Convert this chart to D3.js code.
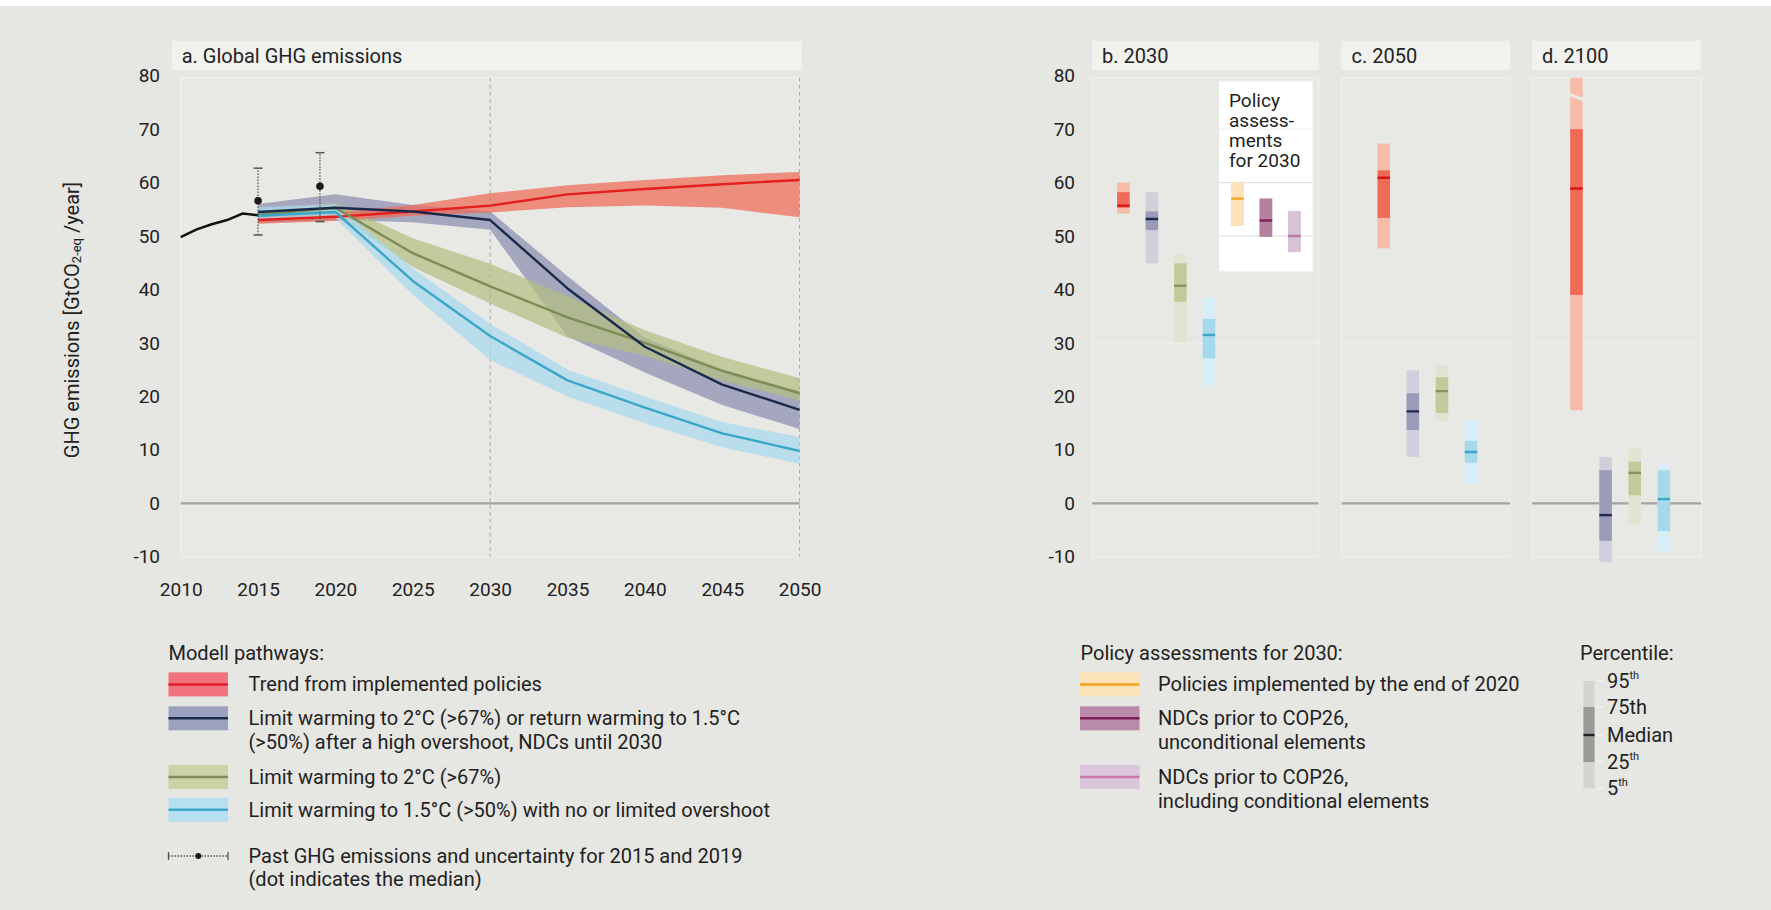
<!DOCTYPE html>
<html>
<head>
<meta charset="utf-8">
<script src="https://cdn.jsdelivr.net/npm/d3@7"></script>
<style>
html,body{margin:0;padding:0;background:#fff;}
svg{display:block;}
text{font-family:Roboto,"Noto Sans",sans-serif;fill:#222;}
</style>
</head>
<body>
<svg id="chart" width="1771" height="910"></svg>
<script>
// ---------------- DATA ----------------
const yTicks = [-10, 0, 10, 20, 30, 40, 50, 60, 70, 80];
const xTicks = [2010, 2015, 2020, 2025, 2030, 2035, 2040, 2045, 2050];

const histYears  = [2010, 2011, 2012, 2013, 2014, 2015];
const histValues = [49.8, 51.2, 52.2, 53.0, 54.2, 53.9];

const pastYears  = [2015, 2019];
const pastMedian = [56.6, 59.3];
const pastLow    = [50.2, 52.7];
const pastHigh   = [62.7, 65.6];

const pathYears = [2015, 2020, 2025, 2030, 2035, 2040, 2045, 2050];
const trendMed  = [53.0, 53.6, 54.6, 55.7, 57.8, 58.8, 59.7, 60.5];
const trendLow  = [52.3, 52.8, 53.8, 54.4, 55.4, 55.7, 55.3, 53.5];
const trendHigh = [53.8, 54.4, 55.8, 58.0, 59.5, 60.5, 61.4, 62.0];

const ndcMed  = [54.5, 55.3, 54.6, 53.0, 40.2, 29.3, 22.2, 17.5];
const ndcLow  = [52.5, 53.0, 52.6, 51.2, 31.2, 24.5, 18.4, 13.9];
const ndcHigh = [56.0, 57.8, 55.8, 54.6, 42.5, 31.0, 25.0, 21.0];

const c2Med  = [54.0, 55.3, 46.8, 40.6, 34.8, 30.0, 24.8, 20.6];
const c2Low  = [53.0, 54.2, 44.2, 37.4, 31.0, 27.6, 23.0, 19.2];
const c2High = [54.8, 56.2, 49.6, 44.8, 38.8, 32.4, 27.4, 23.4];

const c15Med  = [53.8, 54.5, 41.6, 31.3, 23.0, 17.9, 13.1, 9.8];
const c15Low  = [52.8, 53.4, 39.0, 26.8, 20.0, 15.0, 10.5, 7.4];
const c15High = [55.4, 56.0, 44.0, 33.6, 25.0, 20.0, 15.2, 12.4];

// Percentile bars: [p5, p25, median, p75, p95]
const cats2030 = ["Trend", "NDC2030", "C2", "C15", "Policies", "NDCuncond", "NDCcond"];
const p2030 = [
  [54.2, 55.3, 55.7, 58.2, 60.0],
  [44.9, 51.1, 53.2, 54.6, 58.2],
  [30.1, 37.7, 40.7, 44.9, 46.5],
  [21.8, 27.1, 31.5, 34.5, 38.5],
  [51.9, 51.9, 57.0, 60.0, 60.0],
  [49.9, 49.9, 52.9, 57.0, 57.0],
  [47.0, 47.0, 50.0, 54.7, 54.7]
];
const cats2050 = ["Trend", "NDC2030", "C2", "C15"];
const p2050 = [
  [47.7, 53.4, 60.9, 62.3, 67.3],
  [8.7, 13.7, 17.2, 20.6, 24.9],
  [15.4, 16.9, 21.0, 23.6, 25.8],
  [3.5, 7.6, 9.6, 11.7, 15.3]
];
const cats2100 = ["Trend", "NDC2030", "C2", "C15"];
const p2100 = [
  [17.4, 39.0, 58.9, 70.0, 95.0],
  [-11.0, -7.0, -2.2, 6.2, 8.7],
  [-4.0, 1.5, 5.7, 7.8, 10.4],
  [-9.0, -5.2, 0.8, 6.2, 7.7]
];
const breakCat = "Trend", breakValue = 76;

const modelLegend = [
  ["Trend from implemented policies"],
  ["Limit warming to 2°C (>67%) or return warming to 1.5°C", "(>50%) after a high overshoot, NDCs until 2030"],
  ["Limit warming to 2°C (>67%)"],
  ["Limit warming to 1.5°C (>50%) with no or limited overshoot"]
];
const pastLegend = ["Past GHG emissions and uncertainty for 2015 and 2019", "(dot indicates the median)"];
const policyLegend = [
  ["Policies implemented by the end of 2020"],
  ["NDCs prior to COP26,", "unconditional elements"],
  ["NDCs prior to COP26,", "including conditional elements"]
];
const percentileLabels = ["95", "75th", "Median", "25", "5"];
const percentileSup = ["th", "", "", "th", "th"];

// ---------------- STYLE ----------------
const col = {
  Trend:     {band:"#ee6a55", line:"#e2201f", light:"#f7bba9", dark:"#ee6b57", med:"#d6151b", sw:"#f0737d", swl:"#e31a2c"},
  NDC2030:   {band:"#8b8dae", line:"#1b2a4b", light:"#d0d0dd", dark:"#9a9bb8", med:"#1e2b4e", sw:"#9da1c0", swl:"#1d2a4b"},
  C2:        {band:"#b3be82", line:"#7d8b55", light:"#e2e4d3", dark:"#c4c99b", med:"#87925d", sw:"#cbd2a5", swl:"#808d5a"},
  C15:       {band:"#a8d8ee", line:"#3aa6c8", light:"#d8edf5", dark:"#a7d9ec", med:"#3ea6c8", sw:"#b6e0f1", swl:"#40a7c6"},
  Policies:  {light:"#fde3bb", dark:"#fde3bb", med:"#f2a524", sw:"#fde3b8", swl:"#f3a51e"},
  NDCuncond: {light:"#b4829f", dark:"#b4829f", med:"#7f2259", sw:"#b98aa9", swl:"#7b1e56"},
  NDCcond:   {light:"#d8c2d6", dark:"#d8c2d6", med:"#b57aa4", sw:"#dcc6db", swl:"#c777ac"}
};
const BG = "#e6e6e2", PANEL = "#e8e8e5", TITLEBG = "#f1f1ee";
const FS = "20px", TICKFS = "19px";

const svg = d3.select("#chart");
svg.append("rect").attr("width",1771).attr("height",910).attr("fill",BG);
svg.append("rect").attr("width",1771).attr("height",6).attr("fill","#fff");

const y = d3.scaleLinear().domain([-10, 80]).range([556.8, 75.7]);
const x = d3.scaleLinear().domain([2010, 2050]).range([180.7, 799.6]);
const panelTop = y(79.6), panelBot = y(-10);
const fmt = d => String(d); // plain hyphen for negatives

function titleBar(x0, x1, label){
  svg.append("rect").attr("x",x0).attr("y",40.7).attr("width",x1-x0).attr("height",29.3).attr("fill",TITLEBG);
  svg.append("text").attr("x",x0+10).attr("y",55.5).attr("dominant-baseline","central")
    .style("font-size",FS).text(label);
}
function panelRect(x0, x1){
  svg.append("rect").attr("x",x0).attr("y",panelTop).attr("width",x1-x0).attr("height",panelBot-panelTop)
    .attr("fill",PANEL).attr("stroke","#eeeeeb").attr("stroke-width",1.5);
}
function yAxis(xpos){
  const g = svg.append("g").attr("transform",`translate(${xpos},0)`)
    .call(d3.axisLeft(y).tickValues(yTicks).tickSize(0).tickPadding(0).tickFormat(fmt));
  g.select(".domain").remove();
  g.selectAll("text").style("font-size",TICKFS).style("fill","#222").attr("font-family",null);
}

// ---------------- PANEL A ----------------
titleBar(171.7, 801.9, "a. Global GHG emissions");
panelRect(180.7, 799.6);
yAxis(160);
const xa = svg.append("g").attr("transform",`translate(0,${y(-10)+33})`)
  .call(d3.axisBottom(x).tickValues(xTicks).tickSize(0).tickPadding(0).tickFormat(fmt));
xa.select(".domain").remove();
xa.selectAll("text").style("font-size",TICKFS).style("fill","#222").attr("dy","0.32em").attr("y",0);

// dashed verticals
[2030, 2050].forEach(v=>{
  svg.append("line").attr("x1",x(v)).attr("x2",x(v)).attr("y1",panelTop).attr("y2",panelBot)
    .attr("stroke","#a9a9a6").attr("stroke-width",1).attr("stroke-dasharray","4,3");
});
// zero line
svg.append("line").attr("x1",x(2010)).attr("x2",x(2050)).attr("y1",y(0)).attr("y2",y(0))
  .attr("stroke","#a3a3a0").attr("stroke-width",2.2);

// y-axis title
const yt = svg.append("text").attr("transform",`translate(72,320) rotate(-90)`)
  .attr("text-anchor","middle").attr("dominant-baseline","central").style("font-size",FS);
yt.append("tspan").text("GHG emissions [GtCO");
yt.append("tspan").text("2-eq").style("font-size","13px").attr("dy","4");
yt.append("tspan").text(" /year]").attr("dy","-4");

// bands
const series = [
  {k:"NDC2030", med:ndcMed, lo:ndcLow, hi:ndcHigh},
  {k:"C2", med:c2Med, lo:c2Low, hi:c2High},
  {k:"Trend", med:trendMed, lo:trendLow, hi:trendHigh},
  {k:"C15", med:c15Med, lo:c15Low, hi:c15High}
];
const area = d3.area().x(d=>x(d.yr)).y0(d=>y(d.lo)).y1(d=>y(d.hi));
const line = d3.line().x(d=>x(d.yr)).y(d=>y(d.v));
series.forEach(s=>{
  const d = pathYears.map((yr,i)=>({yr, lo:s.lo[i], hi:s.hi[i]}));
  svg.append("path").attr("d",area(d)).attr("fill",col[s.k].band).attr("fill-opacity",0.72);
});
["Trend","C2","NDC2030","C15"].forEach(k=>{
  const s = series.find(z=>z.k===k);
  const d = pathYears.map((yr,i)=>({yr, v:s.med[i]}));
  svg.append("path").attr("d",line(d)).attr("fill","none").attr("stroke",col[k].line)
    .attr("stroke-width",2.4).attr("stroke-linejoin","round");
});
// historical
svg.append("path").attr("d",line(histYears.map((yr,i)=>({yr, v:histValues[i]}))))
  .attr("fill","none").attr("stroke","#111").attr("stroke-width",2.5);
// past uncertainty
pastYears.forEach((yr,i)=>{
  const g = svg.append("g");
  g.append("line").attr("x1",x(yr)).attr("x2",x(yr)).attr("y1",y(pastLow[i])).attr("y2",y(pastHigh[i]))
    .attr("stroke","#555").attr("stroke-width",1.3).attr("stroke-dasharray","1.5,1.5");
  [pastLow[i], pastHigh[i]].forEach(v=>{
    g.append("line").attr("x1",x(yr)-4.5).attr("x2",x(yr)+4.5).attr("y1",y(v)).attr("y2",y(v))
      .attr("stroke","#555").attr("stroke-width",1.5);
  });
  g.append("circle").attr("cx",x(yr)).attr("cy",y(pastMedian[i])).attr("r",3.8).attr("fill","#1a1a1a");
});

// ---------------- PANELS B, C, D ----------------
yAxis(1075);
const panels = [
  {x0:1092, x1:1318.6, title:"b. 2030", cats:cats2030, vals:p2030, pad:0.975, align:0.565},
  {x0:1341.5, x1:1510, title:"c. 2050", cats:cats2050, vals:p2050, pad:1.4, align:0.52},
  {x0:1532, x1:1701, title:"d. 2100", cats:cats2100, vals:p2100, pad:1.4, align:0.545}
];
const defs = svg.append("defs");
panels.forEach((p,pi)=>{
  titleBar(p.x0, p.x1, p.title);
  panelRect(p.x0, p.x1);
  // faint gridline
  svg.append("line").attr("x1",p.x0).attr("x2",p.x1).attr("y1",y(30)).attr("y2",y(30))
    .attr("stroke","#efefec").attr("stroke-width",1.2);
  if(pi===0){
    // policy assessment box
    const bx0 = 1219, bx1 = 1312.6;
    svg.append("rect").attr("x",bx0).attr("y",y(78.9)).attr("width",bx1-bx0).attr("height",y(43.4)-y(78.9))
      .attr("fill","#ffffff");
    [70, 60, 50].forEach((v,i)=>{
      svg.append("line").attr("x1",bx0).attr("x2",bx1).attr("y1",y(v)).attr("y2",y(v))
        .attr("stroke", i===0 ? "#f2f2f2" : "#e2e2e2").attr("stroke-width",1.2);
    });
    const t = svg.append("text").attr("x",bx0+10).attr("y",y(75.3)).style("font-size","19px");
    ["Policy","assess-","ments","for 2030"].forEach((s,i)=>{
      t.append("tspan").attr("x",bx0+10).attr("dy", i===0 ? "0.35em" : "1.05em").text(s);
    });
  }
  svg.append("line").attr("x1",p.x0).attr("x2",p.x1).attr("y1",y(0)).attr("y2",y(0))
    .attr("stroke","#a3a3a0").attr("stroke-width",2.2);

  const xs = d3.scalePoint().domain(p.cats).range([p.x0, p.x1]).padding(p.pad).align(p.align);
  const bw = 12.5;
  const cid = "clip"+pi;
  defs.append("clipPath").attr("id",cid).append("rect")
    .attr("x",p.x0).attr("y",panelTop).attr("width",p.x1-p.x0).attr("height",700);
  const g = svg.append("g").attr("clip-path",`url(#${cid})`);
  p.cats.forEach((c,i)=>{
    const v = p.vals[i], cx = xs(c), cc = col[c];
    g.append("rect").attr("x",cx-bw/2).attr("width",bw).attr("y",y(v[4])).attr("height",y(v[0])-y(v[4]))
      .attr("fill",cc.light);
    g.append("rect").attr("x",cx-bw/2).attr("width",bw).attr("y",y(v[3])).attr("height",y(v[1])-y(v[3]))
      .attr("fill",cc.dark);
    g.append("line").attr("x1",cx-bw/2).attr("x2",cx+bw/2).attr("y1",y(v[2])).attr("y2",y(v[2]))
      .attr("stroke",cc.med).attr("stroke-width",2.4);
    if(pi===2 && c===breakCat){
      g.append("line").attr("x1",cx-bw/2-5).attr("x2",cx+bw/2+5)
        .attr("y1",y(breakValue)-4).attr("y2",y(breakValue)+4)
        .attr("stroke","#ecebe8").attr("stroke-width",3.2);
    }
  });
});

// ---------------- LEGENDS ----------------
function legendHeader(xp, yp, s){
  svg.append("text").attr("x",xp).attr("y",yp).attr("dominant-baseline","central").style("font-size",FS).text(s);
}
function swatchItem(xs0, xt, yc, c, lines){
  svg.append("rect").attr("x",xs0).attr("y",yc-12).attr("width",59.5).attr("height",24).attr("fill",c.sw);
  svg.append("line").attr("x1",xs0).attr("x2",xs0+59.5).attr("y1",yc).attr("y2",yc)
    .attr("stroke",c.swl).attr("stroke-width",2.5);
  lines.forEach((s,i)=>{
    svg.append("text").attr("x",xt).attr("y",yc+i*23.7).attr("dominant-baseline","central")
      .style("font-size",FS).text(s);
  });
}
legendHeader(168.5, 652.8, "Modell pathways:");
const modelKeys = ["Trend","NDC2030","C2","C15"];
const modelY = [684.4, 718.3, 777, 809.8];
modelKeys.forEach((k,i)=> swatchItem(168.5, 248.5, modelY[i], col[k], modelLegend[i]));
// past legend
(function(){
  const yc = 856, x0 = 168.5, x1 = 228;
  svg.append("line").attr("x1",x0).attr("x2",x1).attr("y1",yc).attr("y2",yc)
    .attr("stroke","#555").attr("stroke-width",1.3).attr("stroke-dasharray","1.5,1.5");
  [x0, x1].forEach(xx=> svg.append("line").attr("x1",xx).attr("x2",xx).attr("y1",yc-4).attr("y2",yc+4)
    .attr("stroke","#555").attr("stroke-width",1.3));
  svg.append("circle").attr("cx",(x0+x1)/2).attr("cy",yc).attr("r",3).attr("fill","#1a1a1a");
  pastLegend.forEach((s,i)=> svg.append("text").attr("x",248.5).attr("y",yc+i*22.7)
    .attr("dominant-baseline","central").style("font-size",FS).text(s));
})();

legendHeader(1080.5, 652.8, "Policy assessments for 2030:");
const policyKeys = ["Policies","NDCuncond","NDCcond"];
const policyY = [684.4, 718.3, 777];
policyKeys.forEach((k,i)=> swatchItem(1080, 1158, policyY[i], col[k], policyLegend[i]));

legendHeader(1580, 652.8, "Percentile:");
(function(){
  const ys = [681, 707, 735, 762, 788.3];
  const cx = 1589, w = 11;
  svg.append("rect").attr("x",cx-w/2).attr("width",w).attr("y",ys[0]).attr("height",ys[4]-ys[0]).attr("fill","#d4d4d2");
  svg.append("rect").attr("x",cx-w/2).attr("width",w).attr("y",ys[1]).attr("height",ys[3]-ys[1]).attr("fill","#9a9a98");
  svg.append("line").attr("x1",cx-w/2).attr("x2",cx+w/2).attr("y1",ys[2]).attr("y2",ys[2]).attr("stroke","#222").attr("stroke-width",2.4);
  ys.forEach((yy,i)=>{
    svg.append("line").attr("x1",1597).attr("x2",1603).attr("y1",yy).attr("y2",yy).attr("stroke","#f4f4f2").attr("stroke-width",1.5);
    const t = svg.append("text").attr("x",1607).attr("y",yy).attr("dominant-baseline","central").style("font-size",FS);
    t.append("tspan").text(percentileLabels[i]);
    if(percentileSup[i]) t.append("tspan").text(percentileSup[i]).style("font-size","11px").attr("dy","-6");
  });
})();
</script>
</body>
</html>
